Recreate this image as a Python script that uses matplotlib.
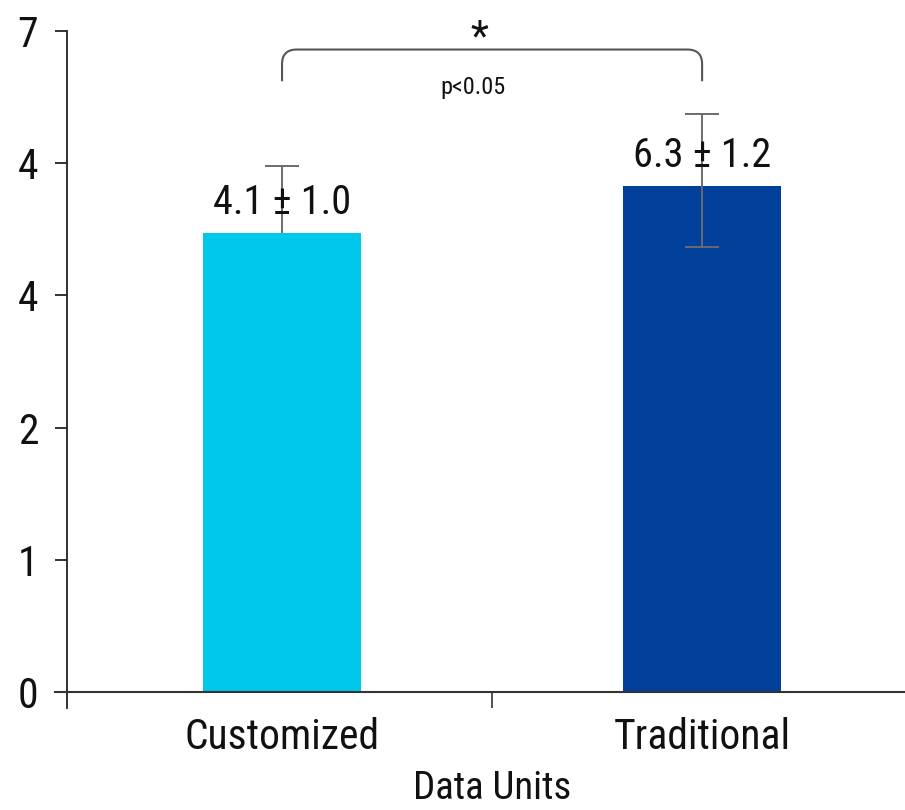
import numpy as np
import matplotlib
matplotlib.use("Agg")
import matplotlib.pyplot as plt
from matplotlib.path import Path
from matplotlib.patches import PathPatch

plt.rcParams['font.family'] = ['Roboto Condensed', 'Roboto', 'DejaVu Sans']

# ---- data ----
groups = ["Customized", "Traditional"]
means = [4.1, 6.3]
sds = [1.0, 1.2]
bar_heights = [3.47, 3.83]          # heights on the plotted axis
err_lower = [0.51, 0.46]
err_upper = [0.51, 0.54]
err_in_front = [False, True]
ytick_labels = ["0", "1", "2", "4", "4", "7"]
bar_colors = ["#00C8EC", "#00409A"]
x_title = "Data Units"
sig_mark = "*"
sig_text = "p<0.05"

fig = plt.figure(figsize=(9.05, 8.1), dpi=100)
ax = fig.add_axes([0.074, 0.1259, 0.926, 0.8358])

x = np.arange(len(groups))
ax.bar(x, bar_heights, width=0.376, color=bar_colors, zorder=2)

for xi, h, lo, hi, front in zip(x, bar_heights, err_lower, err_upper, err_in_front):
    ax.errorbar([xi], [h], yerr=[[lo], [hi]], fmt='none', ecolor='#6b6b6b',
                elinewidth=1.4, capsize=12, capthick=1.4,
                zorder=3 if front else 1)

for xi, h, m, s in zip(x, bar_heights, means, sds):
    ax.text(xi, h + 0.23, f"{m:.1f} \u00b1 {s:.1f}", ha='center', va='center',
            fontsize=29, color='#111111', zorder=4)

# significance bracket
top, drop, rx, ry = 4.86, 0.24, 0.035, 0.11
verts = [(0, top - drop), (0, top - ry), (0, top), (rx, top),
         (1 - rx, top), (1, top), (1, top - ry), (1, top - drop)]
codes = [Path.MOVETO, Path.LINETO, Path.CURVE3, Path.CURVE3,
         Path.LINETO, Path.CURVE3, Path.CURVE3, Path.LINETO]
ax.add_patch(PathPatch(Path(verts, codes), fill=False, edgecolor='#555555',
                       lw=1.5, clip_on=False))
ax.text(0.47, 4.95, sig_mark, ha='center', va='center', fontsize=30,
        color='#111111', clip_on=False)
ax.text(0.455, 4.57, sig_text, ha='center', va='center', fontsize=17.5,
        color='#111111')

# axes
ax.set_xlim(-0.512, 1.483)
ax.set_ylim(-0.12, 5.0)
ax.set_yticks(range(len(ytick_labels)))
ax.set_yticklabels(ytick_labels)
ax.tick_params(axis='y', direction='out', length=8.6, width=1.2, pad=12,
               labelsize=30, colors='#111111')

ax.set_xticks([0.5])
ax.set_xticklabels([""])
ax.set_xticks(x, groups, minor=True)
ax.tick_params(axis='x', which='major', direction='out', length=11.5, width=1.2,
               color='#333333')
ax.tick_params(axis='x', which='minor', length=0, pad=18, labelsize=30,
               labelcolor='#111111')

ax.spines['top'].set_visible(False)
ax.spines['right'].set_visible(False)
ax.spines['bottom'].set_position(('data', 0))
ax.spines['bottom'].set_bounds(-0.54, 1.49)
ax.spines['bottom'].set_color('#333333')
ax.spines['bottom'].set_linewidth(1.5)
ax.spines['left'].set_color('#222222')
ax.spines['left'].set_linewidth(1.3)

ax.set_xlabel(x_title, fontsize=28, color='#111111', va='baseline')
ax.xaxis.set_label_coords(0.507, -0.1345)

fig.savefig("out.png", dpi=100)
